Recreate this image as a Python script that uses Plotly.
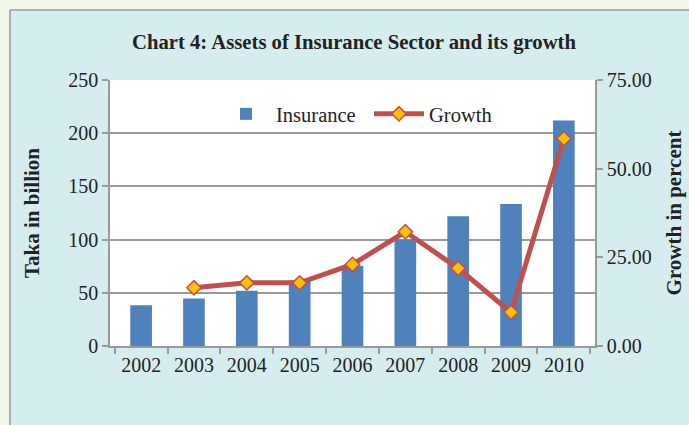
import plotly.graph_objects as go

years = ["2002", "2003", "2004", "2005", "2006", "2007", "2008", "2009", "2010"]
insurance = [38.3, 44.7, 52.0, 61.5, 75.4, 100.0, 122.0, 133.5, 212.0]
growth = [None, 16.4, 17.8, 17.8, 23.0, 32.2, 21.9, 9.5, 58.5]

W, H = 689, 425
L, R, T, B = 110, 595, 80, 346

SERIF = "Liberation Serif"
GRID = "#9a9a9a"
PANEL = "#d6edf0"
OUTER = "#f2f7e9"
TXT = "#222222"

fig = go.Figure()
fig.add_trace(go.Bar(
    x=years, y=insurance, name="Insurance",
    marker=dict(color="#4f81bd", line=dict(width=0)),
    width=0.41, yaxis="y",
))
fig.add_trace(go.Scatter(
    x=years, y=growth, name="Growth", yaxis="y2", mode="lines+markers",
    line=dict(color="#c0504d", width=5),
    marker=dict(symbol="diamond", size=11, color="#ffc000",
                line=dict(color="#c0504d", width=1.5)),
    connectgaps=False,
))

def px_to_paper_x(px):
    return (px - L) / (R - L)

def px_to_paper_y(py):
    return (B - py) / (B - T)

shapes = [
    dict(type="rect", xref="paper", yref="paper",
         x0=px_to_paper_x(-5), x1=px_to_paper_x(9.5), y0=px_to_paper_y(440), y1=px_to_paper_y(-5),
         fillcolor=OUTER, line=dict(width=0), layer="below"),
    dict(type="rect", xref="paper", yref="paper",
         x0=px_to_paper_x(-5), x1=px_to_paper_x(700), y0=px_to_paper_y(9.5), y1=px_to_paper_y(-5),
         fillcolor=OUTER, line=dict(width=0), layer="below"),
    dict(type="line", xref="paper", yref="paper",
         x0=px_to_paper_x(10), x1=px_to_paper_x(10), y0=px_to_paper_y(440), y1=px_to_paper_y(10),
         line=dict(color="#9c9c9c", width=1.6), layer="below"),
    dict(type="line", xref="paper", yref="paper",
         x0=px_to_paper_x(10), x1=px_to_paper_x(700), y0=px_to_paper_y(10), y1=px_to_paper_y(10),
         line=dict(color="#9c9c9c", width=1.6), layer="below"),
]

tickfont = dict(family=SERIF, size=20, color=TXT)

fig.update_layout(
    width=W, height=H,
    margin=dict(l=L, r=W - R, t=T, b=H - B, autoexpand=False),
    paper_bgcolor=PANEL, plot_bgcolor="white",
    font=dict(family=SERIF, color=TXT, size=20),
    title=dict(text="<b>Chart 4: Assets of Insurance Sector and its growth</b>",
               x=354 / W, xanchor="center", y=1 - 42 / H, yanchor="middle",
               font=dict(family=SERIF, size=20.7, color=TXT)),
    shapes=shapes,
    showlegend=True,
    legend=dict(orientation="h", x=px_to_paper_x(216), xanchor="left",
                y=px_to_paper_y(94), yanchor="top",
                bgcolor="rgba(0,0,0,0)", font=dict(family=SERIF, size=20.5, color=TXT),
                itemwidth=50, entrywidth=88, entrywidthmode="pixels",
                traceorder="normal"),
    xaxis=dict(
        type="category", showgrid=False, showline=True, linecolor=GRID, linewidth=1.5,
        ticks="outside", tickson="boundaries", ticklen=6, tickcolor=GRID, tickwidth=1.5,
        tickfont=tickfont, automargin=False,
    ),
    yaxis=dict(
        range=[0, 250], dtick=50, showgrid=True, gridcolor=GRID, gridwidth=1.5,
        showline=True, linecolor=GRID, linewidth=1.5, zeroline=False,
        ticks="outside", ticklen=6, tickcolor=GRID, tickwidth=1.5,
        tickfont=tickfont, automargin=False,
        title=dict(text="<b>Taka in billion</b>", standoff=23,
                   font=dict(family=SERIF, size=21, color=TXT)),
    ),
    yaxis2=dict(
        range=[0, 75], dtick=25, tickformat=".2f", overlaying="y", side="right",
        showgrid=False, showline=True, linecolor=GRID, linewidth=1.5, zeroline=False,
        ticks="outside", ticklen=6, tickcolor=GRID, tickwidth=1.5,
        tickfont=tickfont, automargin=False,
        title=dict(text="<b>Growth in percent</b>", standoff=16,
                   font=dict(family=SERIF, size=21, color=TXT)),
    ),
)

fig.write_html("out.html", config={"displayModeBar": False},
               post_script="document.body.style.margin='0';document.body.style.overflow='hidden';")
